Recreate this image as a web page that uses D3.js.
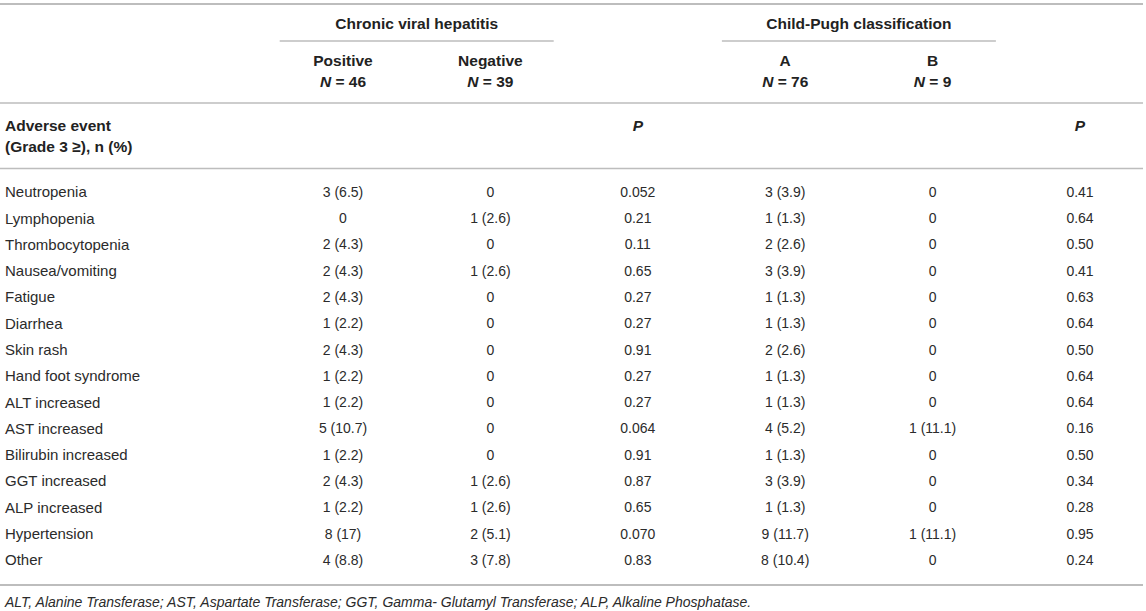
<!doctype html>
<html>
<head>
<meta charset="utf-8">
<title>Adverse events table</title>
<script src="https://cdn.jsdelivr.net/npm/d3@7"></script>
<style>
  body { margin: 0; background: #fff; }
  text { font-family: "Liberation Sans", Arial, Helvetica, sans-serif; font-size: 14px; fill: #2b2b2b; }
  .bold { font-weight: bold; fill: #222; font-size: 15.5px; }
  .label { font-size: 15px; }
  .rule { stroke: #bdbdbd; }
</style>
</head>
<body>
<div id="viz"></div>
<script>
// table data
const events = ["Neutropenia", "Lymphopenia", "Thrombocytopenia", "Nausea/vomiting", "Fatigue",
  "Diarrhea", "Skin rash", "Hand foot syndrome", "ALT increased", "AST increased",
  "Bilirubin increased", "GGT increased", "ALP increased", "Hypertension", "Other"];
const viralPositive = ["3 (6.5)", "0", "2 (4.3)", "2 (4.3)", "2 (4.3)", "1 (2.2)", "2 (4.3)", "1 (2.2)",
  "1 (2.2)", "5 (10.7)", "1 (2.2)", "2 (4.3)", "1 (2.2)", "8 (17)", "4 (8.8)"];
const viralNegative = ["0", "1 (2.6)", "0", "1 (2.6)", "0", "0", "0", "0",
  "0", "0", "0", "1 (2.6)", "1 (2.6)", "2 (5.1)", "3 (7.8)"];
const viralP = ["0.052", "0.21", "0.11", "0.65", "0.27", "0.27", "0.91", "0.27",
  "0.27", "0.064", "0.91", "0.87", "0.65", "0.070", "0.83"];
const childA = ["3 (3.9)", "1 (1.3)", "2 (2.6)", "3 (3.9)", "1 (1.3)", "1 (1.3)", "2 (2.6)", "1 (1.3)",
  "1 (1.3)", "4 (5.2)", "1 (1.3)", "3 (3.9)", "1 (1.3)", "9 (11.7)", "8 (10.4)"];
const childB = ["0", "0", "0", "0", "0", "0", "0", "0",
  "0", "1 (11.1)", "0", "0", "0", "1 (11.1)", "0"];
const childP = ["0.41", "0.64", "0.50", "0.41", "0.63", "0.64", "0.50", "0.64",
  "0.64", "0.16", "0.50", "0.34", "0.28", "0.95", "0.24"];

const columns = ["pos", "neg", "pv", "a", "b", "pc"];
const columnValues = [viralPositive, viralNegative, viralP, childA, childB, childP];
const groupHeaders = [
  {title: "Chronic viral hepatitis", cols: ["pos", "neg"]},
  {title: "Child-Pugh classification", cols: ["a", "b"]}
];
const subHeaders = [
  {col: "pos", name: "Positive", n: "46"},
  {col: "neg", name: "Negative", n: "39"},
  {col: "a", name: "A", n: "76"},
  {col: "b", name: "B", n: "9"}
];
const pColumns = ["pv", "pc"];
const footnote = "ALT, Alanine Transferase; AST, Aspartate Transferase; GGT, Gamma- Glutamyl Transferase; ALP, Alkaline Phosphatase.";

const W = 1146, H = 611;
const svg = d3.select("#viz").append("svg")
  .attr("width", W).attr("height", H);

const x = d3.scalePoint().domain(columns).range([343, 1080]);
const y = d3.scalePoint().domain(events).range([192, 560]);
const spanHalf = 137;

// horizontal rules
svg.append("line").attr("class", "rule").attr("x1", 0).attr("x2", 1143)
  .attr("y1", 4).attr("y2", 4).attr("stroke-width", 2);
svg.append("line").attr("class", "rule").attr("x1", 0).attr("x2", 1143)
  .attr("y1", 103).attr("y2", 103).attr("stroke-width", 1.5);
svg.append("line").attr("class", "rule").attr("x1", 0).attr("x2", 1143)
  .attr("y1", 168.5).attr("y2", 168.5).attr("stroke-width", 1.5);
svg.append("line").attr("class", "rule").attr("x1", 0).attr("x2", 1143)
  .attr("y1", 585).attr("y2", 585).attr("stroke-width", 2);

// group headers with underline
groupHeaders.forEach(g => {
  const cx = (x(g.cols[0]) + x(g.cols[1])) / 2;
  svg.append("text").attr("class", "bold")
    .attr("x", cx).attr("y", 24).attr("dy", "0.35em")
    .attr("text-anchor", "middle").text(g.title);
  svg.append("line").attr("class", "rule")
    .attr("x1", cx - spanHalf).attr("x2", cx + spanHalf)
    .attr("y1", 41).attr("y2", 41).attr("stroke-width", 1.5);
});

// sub headers
subHeaders.forEach(s => {
  svg.append("text").attr("class", "bold")
    .attr("x", x(s.col)).attr("y", 61).attr("dy", "0.35em")
    .attr("text-anchor", "middle").text(s.name);
  const t = svg.append("text").attr("class", "bold")
    .attr("x", x(s.col)).attr("y", 82).attr("dy", "0.35em")
    .attr("text-anchor", "middle");
  t.append("tspan").attr("font-style", "italic").text("N");
  t.append("tspan").text(" = " + s.n);
});

// row header
svg.append("text").attr("class", "bold").attr("x", 5).attr("y", 126)
  .attr("dy", "0.35em").text("Adverse event");
const g3 = svg.append("text").attr("class", "bold").attr("x", 5).attr("y", 147)
  .attr("dy", "0.35em");
g3.append("tspan").text("(Grade 3 ");
g3.append("tspan").text("≥");
g3.append("tspan").text("), n (%)");
pColumns.forEach(c => {
  svg.append("text").attr("class", "bold").attr("font-style", "italic")
    .attr("x", x(c)).attr("y", 126).attr("dy", "0.35em")
    .attr("text-anchor", "middle").text("P");
});

// body rows
svg.selectAll(".label").data(events).join("text")
  .attr("class", "label")
  .attr("x", 5).attr("y", d => y(d)).attr("dy", "0.35em")
  .text(d => d);

columns.forEach((c, ci) => {
  svg.selectAll(".cell-" + c).data(columnValues[ci]).join("text")
    .attr("class", "cell-" + c)
    .attr("x", x(c)).attr("y", (d, i) => y(events[i])).attr("dy", "0.35em")
    .attr("text-anchor", "middle")
    .text(d => d);
});

// footnote
svg.append("text").attr("x", 5).attr("y", 602).attr("dy", "0.35em")
  .attr("font-style", "italic").text(footnote);
</script>
</body>
</html>
